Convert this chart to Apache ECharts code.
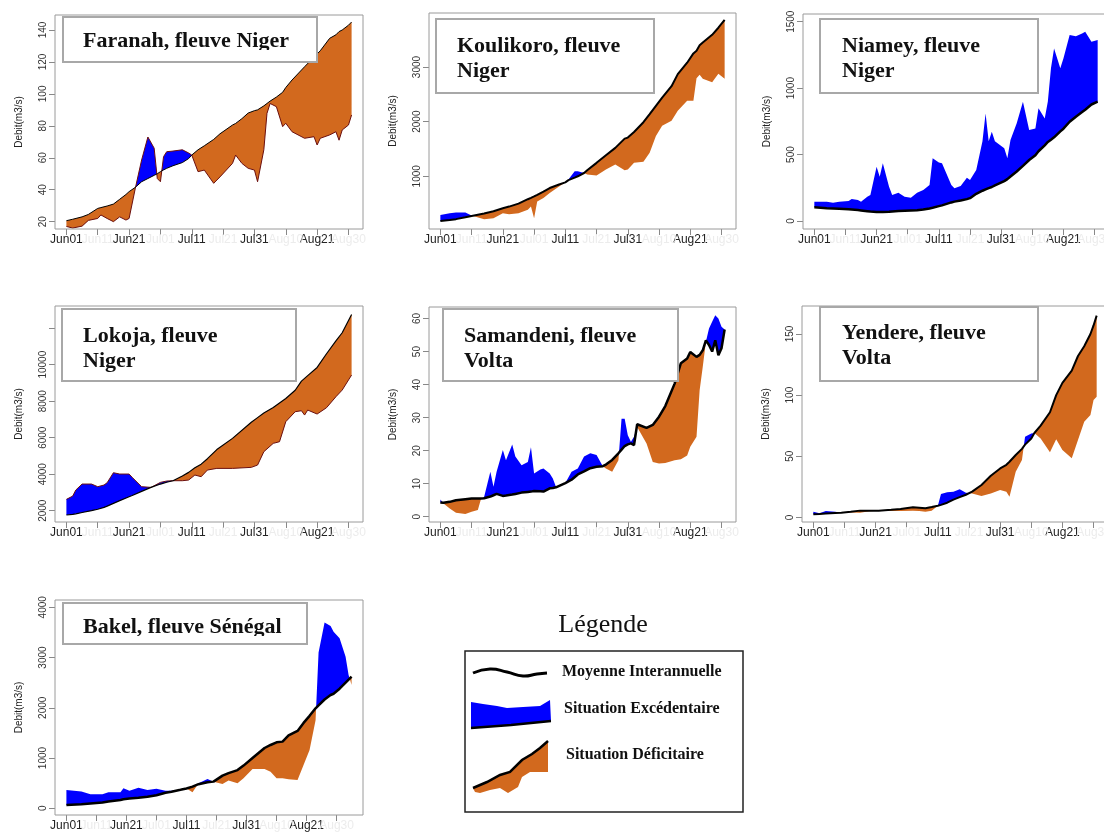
<!DOCTYPE html>
<html><head><meta charset="utf-8">
<script src="https://cdn.jsdelivr.net/npm/echarts@6/dist/echarts.min.js"></script>
<style>html,body{margin:0;padding:0;background:#fff}#c{width:1104px;height:832px}</style>
</head><body><div id="c"></div>
<script>
// ---- x axis (days since Jun 01) ----
const X_TICKS = [0, 10, 20, 30, 40, 50, 60, 70, 80, 90];
const X_MAIN = [0, 20, 40, 60, 80];
const X_FAINT = [10, 30, 50, 70, 90];
const X_LABEL_TEXT = {0: 'Jun01', 20: 'Jun21', 40: 'Jul11', 60: 'Jul31', 80: 'Aug21'};
const X_FAINT_TEXT = {10: 'Jun11', 30: 'Jul01', 50: 'Jul21', 70: 'Aug10', 90: 'Aug30'};

// ---- Faranah, fleuve Niger ----
const faranahDays = [0,2,5,7,10,11,13,15,17,19,20,22,24,26,28,29,30,31,32,34,37,39,40,42,44,47,49,53,54,56,58,60,61,63,64,65,67,69,70,72,76,79,80,81,84,86,87,88,90,91];
const faranahObs  = [17,16,17.2,20.8,22,24.2,22,20,23,21,22,41,58.6,73,66,47,45,60.7,63.8,64.2,65,63,61.7,51.3,52.3,44,48,56.5,61.7,56.5,53.4,52.3,45,65,87.8,94,92,79.5,81.6,76.3,72.2,73.2,68,72.2,74.3,76.3,71,77.4,80.5,86.8];
const faranahMean = [20.6,21.5,23,24.5,28.3,28.8,29.8,31,34,37,38.8,41.5,45,47,49,50,51.3,52.4,53.4,55,57,59.5,61.7,65,67.5,71.5,75,80.5,81.5,84.5,88,89.5,90,92.5,94,95.5,98,101,104,108.7,117,123,125,127,134.8,137,139,140,143,145];
const faranahYTicks = [20,40,60,80,100,120,140];

// ---- Koulikoro, fleuve Niger ----
const koulikoroDays = [0,3,5,8,10,14,17,20,22,25,28,29,30,31,33,35,38,40,41,43,44,46,47,50,53,56,59,60,62,65,67,69,71,74,76,79,81,82,83,84,87,89,91];
const koulikoroObs  = [292,323,335,335,280,212,231,323,305,323,385,446,231,538,600,692,815,889,940,1092,1092,1062,1031,1012,1123,1215,1111,1123,1246,1265,1431,1738,1923,2015,2200,2385,2385,2797,2858,2785,2723,2877,2785];
const koulikoroMean = [181,200,215,250,274,318,360,415,445,500,580,605,631,660,720,785,850,889,930,975,1000,1060,1110,1246,1385,1520,1690,1708,1810,1990,2138,2290,2440,2650,2870,3080,3250,3300,3400,3450,3590,3720,3862];
const koulikoroYTicks = [1000,2000,3000];

// ---- Niamey, fleuve Niger ----
const niameyDays = [0,4,6,8,11,12,14,15,17,18,20,21,22,24,25,27,29,31,33,35,37,38,40,41,44,45,47,49,50,52,54,55,56,57,58,61,62,63,65,67,69,71,72,74,75,76,77,79,80,82,84,86,87,89,91];
const niameyObs  = [145,145,138,145,150,165,158,145,183,196,409,334,434,258,196,213,183,176,213,233,271,472,441,434,271,246,263,326,308,384,600,810,600,672,600,547,472,609,735,898,685,697,848,772,900,1150,1299,1149,1224,1400,1390,1412,1425,1349,1362];
const niameyMean = [103,97,95,93,89,87,83,80,74,71,68,68,68,70,72,75,78,80,82,86,95,100,112,118,140,146,155,165,172,205,228,238,248,256,268,300,315,335,373,415,459,495,525,570,595,612,630,675,695,747,785,820,838,877,898];
const niameyYTicks = [0,500,1000,1500];

// ---- Lokoja, fleuve Niger ----
const lokojaDays = [0,2,3,5,8,10,12,13,15,17,20,21,24,27,30,32,34,37,39,41,43,45,48,53,59,61,63,66,68,70,73,75,76,77,80,83,86,88,91];
const lokojaObs  = [2621,2800,3132,3461,3461,3315,3406,3534,4082,4009,4009,3826,3315,3278,3552,3625,3643,3643,3680,3954,3863,4228,4319,4319,4374,4502,5232,5689,5780,6876,7424,7478,7241,7515,7296,7643,8245,8610,9432];
const lokojaMean = [1763,1800,1830,1900,2000,2080,2180,2250,2400,2550,2767,2830,3060,3280,3460,3560,3643,3900,4100,4350,4550,4850,5350,5963,6850,7100,7350,7650,7900,8150,8600,9100,9250,9400,9850,10600,11300,11750,12750];
const lokojaYTicks = [2000,4000,6000,8000,10000,12000];
const lokojaYLabels = [2000,4000,6000,8000,10000];

// ---- Samandeni, fleuve Volta ----
const samandeniDays = [0,1,3,5,8,10,12,13,14,16,17,18,20,21,23,24,26,28,29,30,32,33,35,36,37,40,42,44,46,48,50,52,53,55,57,58,59,60,61,62,63,66,68,70,72,75,77,79,80,82,83,84,85,86,87,88,89,90,91];
const samandeniObs  = [5.2,4.0,2.5,1.2,0.8,1.5,2.0,5.4,6.0,13.6,9.1,13.6,20.2,17.1,21.9,18.2,15.6,16.6,21,13.1,14.3,14.6,13.1,11.6,9.1,10.2,13.6,14.6,18.2,19.2,18.7,15.3,14.6,13.6,17.1,29.7,29.7,24.7,22.7,24.2,27.2,22.2,16.6,16.1,16.3,17.1,17.4,18.5,21.2,24.2,38.3,45.4,53,57,59,61,60,57.5,56.7];
const samandeniMean = [4.3,4.2,4.5,5.0,5.3,5.5,5.5,5.5,5.6,6.1,6.5,6.9,6.3,6.4,6.7,6.9,7.3,7.5,7.6,7.8,7.7,7.6,8.6,8.7,8.9,10.2,11.2,12.8,13.7,14.7,15.1,15.3,15.8,17.2,19.2,20.3,21.4,21.9,22.2,21.7,28,26.9,27.8,30.3,33.5,40.3,46.5,47.9,49.9,48.4,49,50.4,53.4,52,50,53.4,48.9,51,56.7];
const samandeniYTicks = [0,10,20,30,40,50,60];

// ---- Yendere, fleuve Volta ----
const yendereDays = [0,2,4,7,9,12,15,18,21,25,28,32,34,36,38,40,41,43,45,47,49,51,54,57,60,62,63,65,67,68,70,71,73,76,78,80,83,85,87,89,90,91];
const yendereObs  = [4.6,3.3,5.2,4.6,3.8,4.0,3.8,5.0,5.5,5.3,5.2,5.5,5.2,4.6,5.5,9.5,19.1,20.5,21,22.9,20.2,19.6,17.5,19.6,22.4,21,16.9,37.4,46.9,66,68.7,69,64.6,53.2,63.8,55.1,48.3,63.3,78.3,83.7,96,98.7];
const yendereMean = [2.5,2.8,3.2,3.6,3.8,4.6,5.5,5.5,5.5,6.2,6.8,8.2,7.8,7.4,8.4,9.5,10.2,12,14.5,16.5,18.5,21,26.5,34,40,43,45.5,51,56,59.5,64.5,69,75,86,100,110,120,132,140,150,157,165];
const yendereYTicks = [0,50,100,150];

// ---- Bakel, fleuve Sénégal ----
const bakelDays = [0,5,8,12,14,18,19,21,24,27,30,33,35,38,40,42,44,47,49,52,54,57,59,62,66,68,70,72,74,77,79,81,83,84,86,88,89,91,93,94,95];
const bakelObs  = [365,335,279,279,318,318,398,352,411,365,391,352,352,365,398,318,497,584,531,484,551,497,597,783,783,730,597,597,577,564,862,1161,1750,3100,3695,3628,3515,3383,3018,2653,2454];
const bakelMean = [66,80,95,115,135,165,180,195,210,230,260,310,330,368,395,431,480,520,531,650,700,760,850,1000,1200,1260,1313,1327,1450,1540,1700,1840,1990,2050,2165,2255,2280,2380,2500,2560,2620];
const bakelYTicks = [0,1000,2000,3000,4000];

// ---- titles ----
const titles = [
  ['Faranah, fleuve Niger'],
  ['Koulikoro, fleuve', 'Niger'],
  ['Niamey, fleuve', 'Niger'],
  ['Lokoja, fleuve', 'Niger'],
  ['Samandeni, fleuve', 'Volta'],
  ['Yendere, fleuve', 'Volta'],
  ['Bakel, fleuve Sénégal']
];
const legendTitle = 'Légende';
const legendItems = ['Moyenne Interannuelle', 'Situation Excédentaire', 'Situation Déficitaire'];
const yName = 'Debit(m3/s)';

const stations = [
  {days: faranahDays, obs: faranahObs, mean: faranahMean, yTicks: faranahYTicks, yLabels: faranahYTicks},
  {days: koulikoroDays, obs: koulikoroObs, mean: koulikoroMean, yTicks: koulikoroYTicks, yLabels: koulikoroYTicks},
  {days: niameyDays, obs: niameyObs, mean: niameyMean, yTicks: niameyYTicks, yLabels: niameyYTicks},
  {days: lokojaDays, obs: lokojaObs, mean: lokojaMean, yTicks: lokojaYTicks, yLabels: lokojaYLabels},
  {days: samandeniDays, obs: samandeniObs, mean: samandeniMean, yTicks: samandeniYTicks, yLabels: samandeniYTicks},
  {days: yendereDays, obs: yendereObs, mean: yendereMean, yTicks: yendereYTicks, yLabels: yendereYTicks},
  {days: bakelDays, obs: bakelObs, mean: bakelMean, yTicks: bakelYTicks, yLabels: bakelYTicks}
];

// ---- layout (positions / styles) ----
const layout = [
  {grid: [55, 15, 308, 214], y: [15.4, 149.4], x: [-3.64, 94.64], box: [63, 17, 254, 45], tx: 83, ty: [41], meanW: 1, outline: true, cover: [64, 50, 252, 11]},
  {grid: [429, 13, 307, 216], y: [34.5, 3990], x: [-3.64, 94.64], box: [436, 19, 218, 74], tx: 457, ty: [46, 71], meanW: 2},
  {grid: [803, 14, 306, 215], y: [-60, 1558], x: [-3.64, 94.64], box: [820, 19, 218, 74], tx: 842, ty: [46, 71], meanW: 2.5},
  {grid: [55, 306, 308, 216], y: [1381, 13216], x: [-3.64, 94.64], box: [62, 309, 234, 72], tx: 83, ty: [336, 361], meanW: 1.2, outline: true},
  {grid: [429, 307, 307, 215], y: [-1.6, 63.5], x: [-3.64, 94.64], box: [443, 309, 235, 72], tx: 464, ty: [336, 361], meanW: 2.5},
  {grid: [802, 306, 306, 216], y: [-3.8, 172.9], x: [-3.64, 94.64], box: [820, 307, 218, 74], tx: 842, ty: [333, 358], meanW: 2},
  {grid: [55, 600, 308, 215], y: [-133, 4145], x: [-3.8, 98.8], box: [63, 603, 244, 41], tx: 83, ty: [627], meanW: 2.5, cover: [64, 636, 242, 7]}
];

const BLUE = '#0000ff', ORANGE = '#d2691e';
const SANS = '"Liberation Sans", Arial, sans-serif';
const SERIF = '"Liberation Serif", "Times New Roman", serif';

// split the band between observed and mean into same-sign runs (crossings found on the segments)
function bandRuns(days, obs, mean) {
  const runs = [];
  let run = null;
  for (let k = 0; k < days.length; k++) {
    const s = obs[k] - mean[k] >= 0 ? 1 : -1;
    if (!run) { run = {s: s, top: [], bot: []}; }
    else if (s !== run.s) {
      const d0 = obs[k - 1] - mean[k - 1], d1 = obs[k] - mean[k];
      const t = d0 / (d0 - d1);
      const c = [days[k - 1] + t * (days[k] - days[k - 1]), mean[k - 1] + t * (mean[k] - mean[k - 1])];
      run.top.push(c); run.bot.push(c);
      runs.push(run);
      run = {s: s, top: [c], bot: [c]};
    }
    run.top.push([days[k], obs[k]]);
    run.bot.push([days[k], mean[k]]);
  }
  if (run) runs.push(run);
  return runs;
}

const grids = [], xAxes = [], faintAxes = [], yAxes = [], series = [], graphics = [];

stations.forEach((st, i) => {
  const L = layout[i];
  grids.push({left: L.grid[0], top: L.grid[1], width: L.grid[2], height: L.grid[3], containLabel: false, outerBoundsMode: 'none',
    show: true, z: 10, backgroundColor: 'rgba(0,0,0,0)', borderColor: '#9a9a9a', borderWidth: 1});
  xAxes.push({gridIndex: i, type: 'value', position: 'bottom', min: L.x[0], max: L.x[1],
    axisLine: {show: false, onZero: false}, splitLine: {show: false},
    axisTick: {show: true, inside: false, length: 6, customValues: X_TICKS, lineStyle: {color: '#888'}},
    axisLabel: {customValues: X_MAIN, margin: 5, hideOverlap: false,
      formatter: v => X_LABEL_TEXT[v] || '', fontSize: 12, color: '#222', fontFamily: SANS}
  });
  faintAxes.push({gridIndex: i, type: 'value', position: 'bottom', offset: 0, min: L.x[0], max: L.x[1],
    axisLine: {show: false, onZero: false}, splitLine: {show: false}, axisTick: {show: false},
    axisLabel: {customValues: X_FAINT, margin: 5, hideOverlap: false,
      formatter: v => X_FAINT_TEXT[v] || '', fontSize: 12, color: '#ececec', fontFamily: SANS}
  });
  yAxes.push({gridIndex: i, type: 'value', position: 'left', min: L.y[0], max: L.y[1],
    axisLine: {show: false, onZero: false}, splitLine: {show: false},
    axisTick: {show: true, inside: false, length: 6, customValues: st.yTicks, lineStyle: {color: '#888'}},
    axisLabel: {customValues: st.yLabels, rotate: 90, margin: 7, fontSize: 10, color: '#333', fontFamily: SANS,
      formatter: v => String(v), hideOverlap: false},
    name: yName, nameLocation: 'middle', nameGap: 31, nameRotate: 90,
    nameTextStyle: {fontSize: 10, color: '#222', fontFamily: SANS}
  });
  const runs = bandRuns(st.days, st.obs, st.mean);
  const meanPts = st.days.map((d, k) => [d, st.mean[k]]);
  const obsPts = st.days.map((d, k) => [d, st.obs[k]]);
  series.push({type: 'custom', xAxisIndex: i, yAxisIndex: i, silent: true, z: 2, clip: true,
    data: [[st.days[0], st.mean[0]]],
    renderItem: (params, api) => ({type: 'group', children: runs.map(r => ({
      type: 'polygon',
      shape: {points: r.top.concat(r.bot.slice().reverse()).map(p => api.coord(p))},
      style: {fill: r.s > 0 ? BLUE : ORANGE, stroke: null}
    }))})
  });
  const base = {type: 'line', xAxisIndex: i, yAxisIndex: i, symbol: 'none', silent: true, z: 3};
  if (L.outline) series.push(Object.assign({}, base, {data: obsPts, lineStyle: {color: '#6b0f0f', width: 1}}));
  series.push(Object.assign({}, base, {data: meanPts, lineStyle: {color: '#000', width: L.meanW}}));

  // title box
  graphics.push({type: 'rect', z: 100, shape: {x: L.box[0], y: L.box[1], width: L.box[2], height: L.box[3]},
    style: {fill: '#fff', stroke: '#a8a8a8', lineWidth: 2}});
  titles[i].forEach((t, j) => {
    graphics.push({type: 'text', z: 101, style: {text: t, x: L.tx, y: L.ty[j], fill: '#111',
      font: 'bold 22px ' + SERIF, textAlign: 'left', textVerticalAlign: 'middle', align: 'left', verticalAlign: 'middle'}});
  });
  if (L.cover) graphics.push({type: 'rect', z: 102, shape: {x: L.cover[0], y: L.cover[1], width: L.cover[2], height: L.cover[3]}, style: {fill: '#fff'}});
});

// ---- legend drawing ----
graphics.push({type: 'text', z: 100, style: {text: legendTitle, x: 603, y: 625, fill: '#111', font: '26px ' + SERIF,
  textAlign: 'center', textVerticalAlign: 'middle', align: 'center', verticalAlign: 'middle'}});
graphics.push({type: 'rect', z: 100, shape: {x: 465, y: 651, width: 278, height: 161}, style: {fill: '#fff', stroke: '#222', lineWidth: 1.5}});
graphics.push({type: 'polyline', z: 101, shape: {points: [[473,673],[490,669],[507,672],[523,676],[537,674],[547,673]], smooth: 0.5},
  style: {stroke: '#000', lineWidth: 3, fill: null}});
graphics.push({type: 'polygon', z: 101, shape: {points: [[471,702],[483,704],[497,706],[507,708],[523,707],[540,706],[550,700],[551,721],[471,728]]},
  style: {fill: BLUE}});
graphics.push({type: 'polyline', z: 102, shape: {points: [[471,728],[511,725],[551,721]]}, style: {stroke: '#000', lineWidth: 2.5, fill: null}});
graphics.push({type: 'polygon', z: 101, shape: {points: [[473,788],[487,782],[500,775],[510,772],[522,760],[532,754],[540,748],[548,741],[548,772],[530,772],[522,777],[518,787],[508,793],[500,788],[490,790],[480,793],[475,792]]},
  style: {fill: ORANGE}});
graphics.push({type: 'polyline', z: 102, shape: {points: [[473,788],[487,782],[500,775],[510,772],[522,760],[532,754],[540,748],[548,741]]},
  style: {stroke: '#000', lineWidth: 2.5, fill: null}});
const legendTextPos = [[562, 672], [564, 709], [566, 755]];
legendItems.forEach((t, k) => {
  graphics.push({type: 'text', z: 101, style: {text: t, x: legendTextPos[k][0], y: legendTextPos[k][1], fill: '#111',
    font: 'bold 16px ' + SERIF, textAlign: 'left', textVerticalAlign: 'middle', align: 'left', verticalAlign: 'middle'}});
});

const chart = echarts.init(document.getElementById('c'), null, {renderer: 'canvas'});
chart.setOption({animation: false, backgroundColor: '#fff', grid: grids, xAxis: xAxes.concat(faintAxes), yAxis: yAxes, series: series, graphic: {elements: graphics}});
</script></body></html>
